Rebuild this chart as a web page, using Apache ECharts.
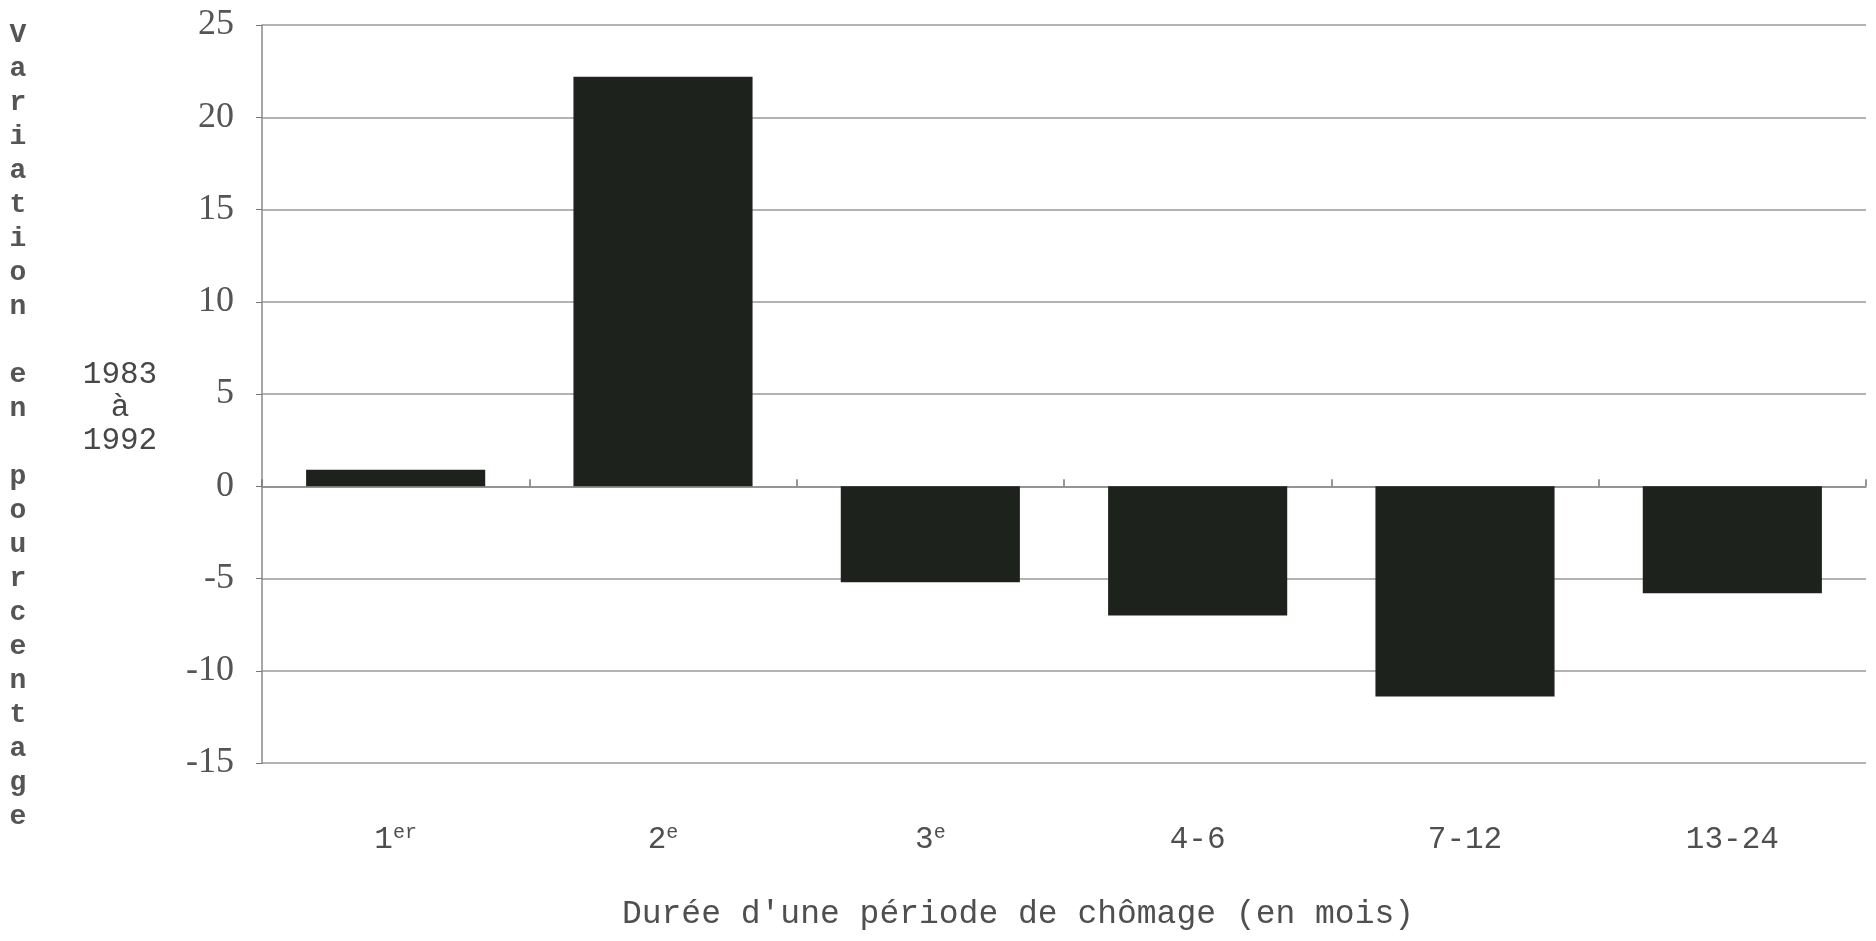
<!DOCTYPE html>
<html>
<head>
<meta charset="utf-8">
<script src="https://cdn.jsdelivr.net/npm/echarts@6/dist/echarts.min.js"></script>
<style>
  html, body { margin: 0; padding: 0; background: #ffffff; }
  #chart { width: 1876px; height: 941px; }
</style>
</head>
<body>
<div id="chart"></div>
<script>
// Durée d'une période de chômage (catégories) et variation 1983 à 1992, en %
const categories = ['1er', '2e', '3e', '4-6', '7-12', '13-24'];
const variation = [0.9, 22.2, -5.2, -7.0, -11.4, -5.8];
const yTicks = { min: -15, max: 25, step: 5 };

const axisTitle = "Durée d'une période de chômage (en mois)";
const yTitleWords = ['Variation', 'en', 'pourcentage'];
const periodLines = ['1983', 'à', '1992'];

const mono = '"Liberation Mono", "DejaVu Sans Mono", monospace';
const serif = '"Liberation Serif", "DejaVu Serif", serif';
const textGrey = '#4f4f4f';

// Ordinals written with a raised suffix (1er, 2e, 3e)
function formatCategory(v) {
  const m = v.match(/^(\d+)(er|e)$/);
  if (m) return '{n|' + m[1] + '}{s|' + m[2] + '}';
  return '{n|' + v + '}';
}

// Stack the words vertically, letter by letter, with a blank row between words
const stackedTitle = yTitleWords.map(w => w.split('').join('\n')).join('\n\n');

const chart = echarts.init(document.getElementById('chart'));
chart.setOption({
  backgroundColor: '#ffffff',
  animation: false,
  grid: { left: 262, right: 10, top: 25, bottom: 178 },
  xAxis: [
    {
      type: 'category',
      data: categories,
      position: 'bottom',
      axisLine: { show: false, onZero: false },
      axisTick: { show: false },
      axisLabel: {
        margin: 60,
        formatter: formatCategory,
        rich: {
          n: { fontFamily: mono, fontSize: 31, color: textGrey, verticalAlign: 'bottom', lineHeight: 32 },
          s: { fontFamily: mono, fontSize: 20, color: textGrey, verticalAlign: 'top', lineHeight: 32, padding: [0, 0, 16, 0] }
        }
      },
      name: axisTitle,
      nameLocation: 'middle',
      nameGap: 135,
      nameTextStyle: { fontFamily: mono, fontSize: 33, color: textGrey, padding: [0, 92, 0, 0] }
    },
    {
      type: 'category',
      data: categories,
      position: 'top',
      axisLine: { show: true, onZero: true, lineStyle: { color: '#8a8a8a', width: 1.5 } },
      axisTick: { show: true, length: 7, lineStyle: { color: '#777', width: 1.5 } },
      axisLabel: { show: false }
    }
  ],
  yAxis: {
    type: 'value',
    min: yTicks.min,
    max: yTicks.max,
    interval: yTicks.step,
    axisLine: { show: true, lineStyle: { color: '#8a8a8a', width: 1.5 } },
    axisTick: { show: true, length: 6, inside: false, lineStyle: { color: '#777' } },
    axisLabel: { fontFamily: serif, fontSize: 36, color: '#555', margin: 28 },
    splitLine: { show: true, lineStyle: { color: '#9a9a9a', width: 1.5 } }
  },
  series: [{
    type: 'bar',
    xAxisIndex: 0,
    data: variation,
    barCategoryGap: '33%',
    itemStyle: { color: '#1d221d' }
  }],
  graphic: [
    {
      type: 'text',
      x: 18,
      y: 18,
      style: {
        text: stackedTitle,
        fontFamily: mono,
        fontSize: 28,
        fontWeight: 'bold',
        lineHeight: 34,
        fill: '#555555',
        align: 'center',
        verticalAlign: 'top'
      }
    },
    {
      type: 'text',
      x: 120,
      y: 358,
      style: {
        text: periodLines.join('\n'),
        fontFamily: mono,
        fontSize: 31,
        lineHeight: 33,
        fill: '#474747',
        align: 'center',
        verticalAlign: 'top'
      }
    }
  ]
});
</script>
</body>
</html>
